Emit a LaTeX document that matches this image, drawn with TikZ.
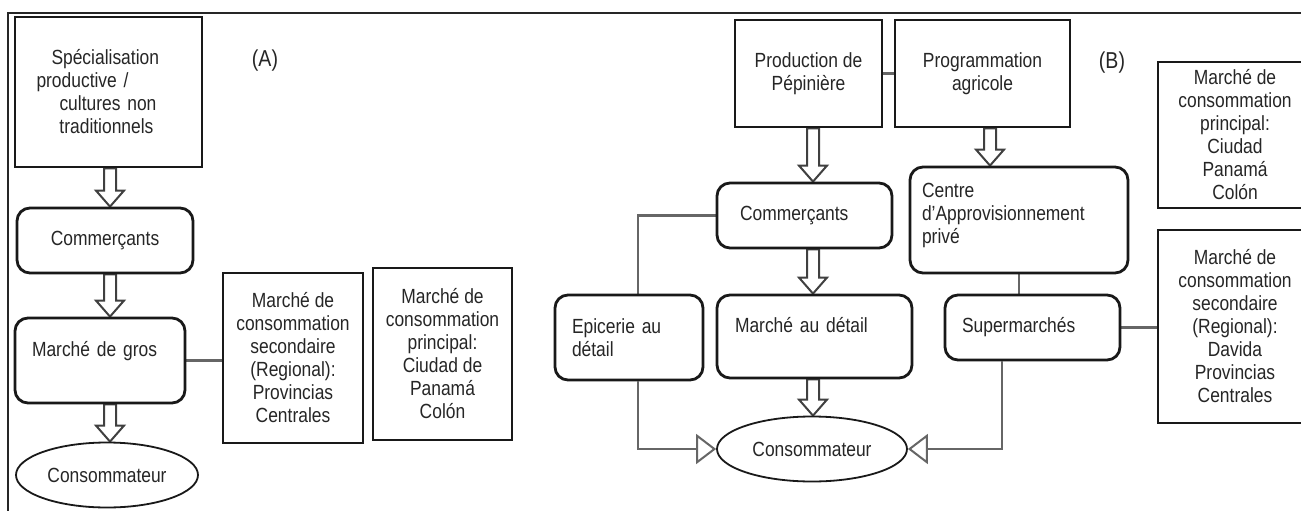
\documentclass[tikz,border=0pt]{standalone}
\usepackage{fontspec}
\setmainfont{Liberation Sans}[FakeStretch=0.85]
\usetikzlibrary{arrows.meta,shapes.geometric,calc,backgrounds}

\tikzset{
  box/.style={draw=black!90, line width=2.8pt, fill=white, inner ysep=0pt, align=center, text=black!85},
  rbox/.style={box, rounded corners=13pt},
  oval/.style={ellipse, draw=black!90, line width=1.8pt, fill=white, inner sep=0pt, text=black!85},
  link/.style={draw=black!60, line width=2.2pt},
  openhead/.style={-{Triangle[open, length=20pt, width=30pt, line width=2pt]}},
  hollow/.style={draw=black!75, line width=2pt, fill=white, line join=miter},
  frame/.style={draw=black!85, line width=1.5pt},
  tag/.style={font=\fontsize{23}{26}\selectfont, text=black!85},
}

% hollow block arrow from the bottom of #1 to the top of #2, at x = #3
\newcommand\blockarrow[3]{%
  \path[hollow] let \p1=(#1.south), \p2=(#2.north), \p3=(#3,0) in
    (\x3-6pt,\y1) -- (\x3-6pt,\y2+16pt) -- (\x3-14pt,\y2+16pt) -- (\x3,\y2)
    -- (\x3+14pt,\y2+16pt) -- (\x3+6pt,\y2+16pt) -- (\x3+6pt,\y1) -- cycle;}

\begin{document}
\begin{tikzpicture}[x=1pt, y=-1pt, font=\fontsize{20.5}{23}\selectfont]
\useasboundingbox (0,0) rectangle (1301,511);
\clip (0,0) rectangle (1301,511);

% outer frame
\coordinate (fc) at (8,13);
\draw[frame] (1301,13) -- (fc) -- (8,511);

% ---------- panel A ----------
\node[tag] (labA) at (265,61) {(A)};
\node[box, minimum width=187pt, minimum height=150pt, text width=160pt, inner xsep=13.5pt, align=left]
  (spec) at (108.5,92)
  {\hspace*{23pt}Spécialisation\\\hspace*{8pt}productive /\\\hspace*{31pt}cultures non\\\hspace*{31pt}traditionnels};
\node[rbox, minimum width=176pt, minimum height=65pt] (comA) at (105,240.5) {Commerçants};
\node[rbox, minimum width=170pt, minimum height=85pt, text width=136pt, inner xsep=17pt, align=left]
  (gros) at (100,360.5) {Marché de gros\\\mbox{}};
\node[oval, minimum width=182pt, minimum height=65pt] (consA) at (107,475) {Consommateur};
\node[box, minimum width=140pt, minimum height=170pt] (asec) at (293,358)
  {Marché de\\consommation\\secondaire\\(Regional):\\Provincias\\Centrales};
\node[box, minimum width=139pt, minimum height=172pt] (aprin) at (442.5,354)
  {Marché de\\consommation\\principal:\\Ciudad de\\Panamá\\Colón};

% ---------- panel B ----------
\node[tag] (labB) at (1112,63) {(B)};
\node[box, minimum width=147pt, minimum height=107pt] (prod) at (808.5,73.5) {Production de\\Pépinière};
\node[box, minimum width=175pt, minimum height=107pt] (prog) at (982.5,73.5) {Programmation\\agricole};
\node[box, minimum width=154pt, minimum height=146pt] (bprin) at (1235,135)
  {Marché de\\consommation\\principal:\\Ciudad\\Panamá\\Colón};
\node[box, minimum width=154pt, minimum height=193pt] (bsec) at (1235,326.5)
  {Marché de\\consommation\\secondaire\\(Regional):\\Davida\\Provincias\\Centrales};
\node[rbox, minimum width=175pt, minimum height=65pt, text width=129pt, inner xsep=23pt, align=left]
  (comB) at (804.5,215.5) {Commerçants};
\node[rbox, minimum width=218pt, minimum height=106pt, text width=194pt, inner xsep=12pt, align=left]
  (centre) at (1019,220) {Centre\\d'Approvisionnement\\privé\\[-9pt]\mbox{}};
\node[rbox, minimum width=148pt, minimum height=85pt, text width=114pt, inner xsep=17pt, align=left]
  (epi) at (629,337.5) {Epicerie au\\détail};
\node[rbox, minimum width=195pt, minimum height=83pt, text width=159pt, inner xsep=18pt, align=left]
  (mad) at (814.5,336.5) {Marché au détail\\\mbox{}};
\node[rbox, minimum width=175pt, minimum height=65pt, text width=141pt, inner xsep=17pt, align=left]
  (sup) at (1032.5,327.5) {Supermarchés};
\node[oval, minimum width=190pt, minimum height=65pt] (consB) at (812,449) {Consommateur};

% ---------- connectors, drawn beneath the boxes ----------
\coordinate (lx) at (638,0);
\coordinate (rx) at (1002,0);
\begin{scope}[on background layer]
  \fill[white] (0,0) rectangle (1301,511);
  \blockarrow{spec}{comA}{110}
  \blockarrow{comA}{gros}{110}
  \blockarrow{gros}{consA}{110}
  \blockarrow{prod}{comB}{813}
  \blockarrow{prog}{centre}{990}
  \blockarrow{comB}{mad}{813}
  \blockarrow{mad}{consB}{813}
  \draw[link] (gros.east) -- (gros.east -| asec.west);
  \draw[link] (prod.east) -- (prog.west);
  \draw[link] (centre.south) -- (centre.south |- sup.north);
  \draw[link] (sup.east) -- (sup.east -| bsec.west);
  \draw[link] (comB.west) -| (lx |- epi.north);
\end{scope}
\draw[link, openhead] (lx |- epi.south) |- (consB.west);
\draw[link, openhead] (rx |- sup.south) |- (consB.east);
\end{tikzpicture}
\end{document}
